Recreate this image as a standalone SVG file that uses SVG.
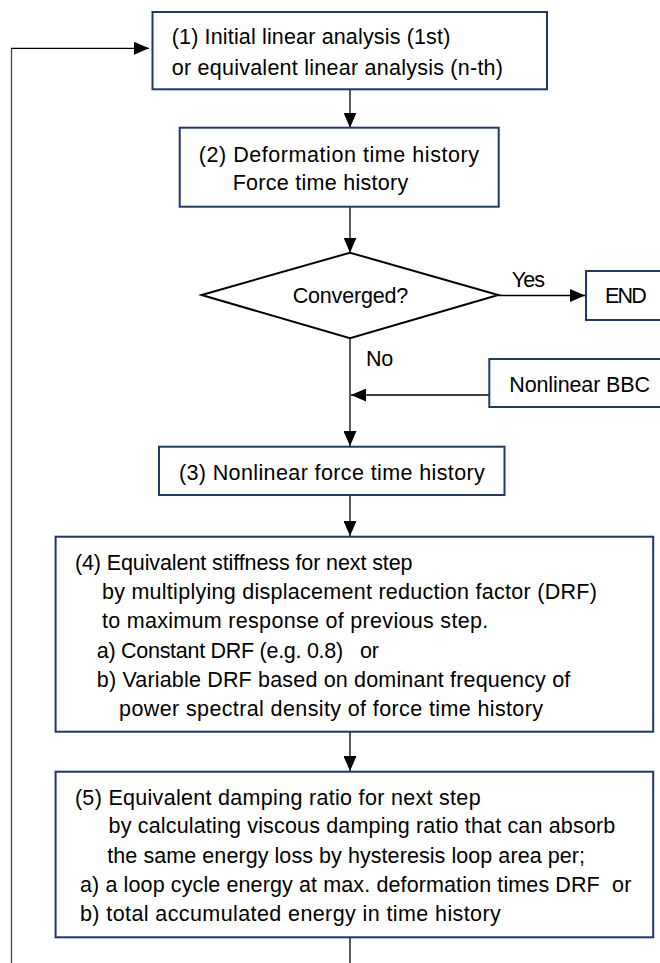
<svg xmlns="http://www.w3.org/2000/svg" width="660" height="963" viewBox="0 0 660 963">
<defs>
<marker id="ah" viewBox="0 0 15 13" refX="15" refY="6.5" markerWidth="15" markerHeight="13" markerUnits="userSpaceOnUse" orient="auto">
<path d="M0,0 L15,6.5 L0,13 z" fill="#000"/>
</marker>
<style>
.box{fill:#fff;stroke:#1F3864;stroke-width:2}
.dia{fill:#fff;stroke:#000;stroke-width:2}
.t{font-family:"Liberation Sans",Arial,sans-serif;font-size:21.5px;fill:#000;white-space:pre}
.c{fill:none;stroke:#000;stroke-width:1.3}
.ca{fill:none;stroke:#000;stroke-width:1.3;marker-end:url(#ah)}
</style>
</defs>
<rect width="660" height="963" fill="#fff"/>
<g id="connectors">
<path class="c" d="M11.5,963 V48.3" style="stroke:#444"/>
<path class="ca" d="M11,48.3 H149"/>
<path class="ca" d="M350,89.3 V127.7"/>
<path class="ca" d="M350,206.7 V252.7"/>
<path class="ca" d="M498.3,295.5 H585"/>
<path class="ca" d="M350,338.3 V446"/>
<path class="ca" d="M489.3,395 H351"/>
<path class="ca" d="M350,495 V536"/>
<path class="ca" d="M350,731.7 V771"/>
<path class="c" d="M350,937.3 V963"/>
</g>
<g id="n1">
<rect class="box" x="152.5" y="12" width="394.5" height="77.3"/>
<text class="t" x="171.7" y="44" textLength="278.6">(1) Initial linear analysis (1st)</text>
<text class="t" x="171.7" y="74.5" textLength="331.3">or equivalent linear analysis (n-th)</text>
</g>
<g id="n2">
<rect class="box" x="179.7" y="127.7" width="319" height="79"/>
<text class="t" x="198.7" y="161.7" textLength="280.3">(2) Deformation time history</text>
<text class="t" x="232.7" y="190" textLength="175.5">Force time history</text>
</g>
<g id="decision">
<polygon class="dia" points="201.7,295 350,252.7 498.3,295 350,338.3"/>
<text class="t" x="292.7" y="303.3" textLength="115.6">Converged?</text>
</g>
<g id="label-yes"><text class="t" x="511.7" y="286.7" textLength="33.3">Yes</text></g>
<g id="label-no"><text class="t" x="366" y="366" textLength="27.3">No</text></g>
<g id="end">
<rect class="box" x="586" y="271" width="110" height="49"/>
<text class="t" x="605" y="303.3" textLength="41.7">END</text>
</g>
<g id="bbc">
<rect class="box" x="489.3" y="359" width="210" height="48"/>
<text class="t" x="509.3" y="391.7" textLength="140.7">Nonlinear BBC</text>
</g>
<g id="n3">
<rect class="box" x="159" y="446.7" width="345.5" height="48.3"/>
<text class="t" x="178.9" y="480" textLength="305.9">(3) Nonlinear force time history</text>
</g>
<g id="n4">
<rect class="box" x="55.6" y="536.7" width="597.6" height="195"/>
<text class="t" x="74.9" y="570" textLength="337.6">(4) Equivalent stiffness for next step</text>
<text class="t" x="101.9" y="599.3" textLength="494.9">by multiplying displacement reduction factor (DRF)</text>
<text class="t" x="101.9" y="628.3" textLength="386.3">to maximum response of previous step.</text>
<text class="t" x="96.8" y="657.7" textLength="282">a) Constant DRF (e.g. 0.8)   or</text>
<text class="t" x="96.8" y="686.7" textLength="473.5">b) Variable DRF based on dominant frequency of</text>
<text class="t" x="119.1" y="715.5" textLength="423.9">power spectral density of force time history</text>
</g>
<g id="n5">
<rect class="box" x="55.6" y="771.7" width="597.6" height="165.6"/>
<text class="t" x="74.9" y="805" textLength="405.7">(5) Equivalent damping ratio for next step</text>
<text class="t" x="108.6" y="833.3" textLength="506.7">by calculating viscous damping ratio that can absorb</text>
<text class="t" x="107.3" y="862.7" textLength="477.7">the same energy loss by hysteresis loop area per;</text>
<text class="t" x="80" y="891.7" textLength="551.3">a) a loop cycle energy at max. deformation times DRF  or</text>
<text class="t" x="80" y="920.7" textLength="420.8">b) total accumulated energy in time history</text>
</g>
</svg>
